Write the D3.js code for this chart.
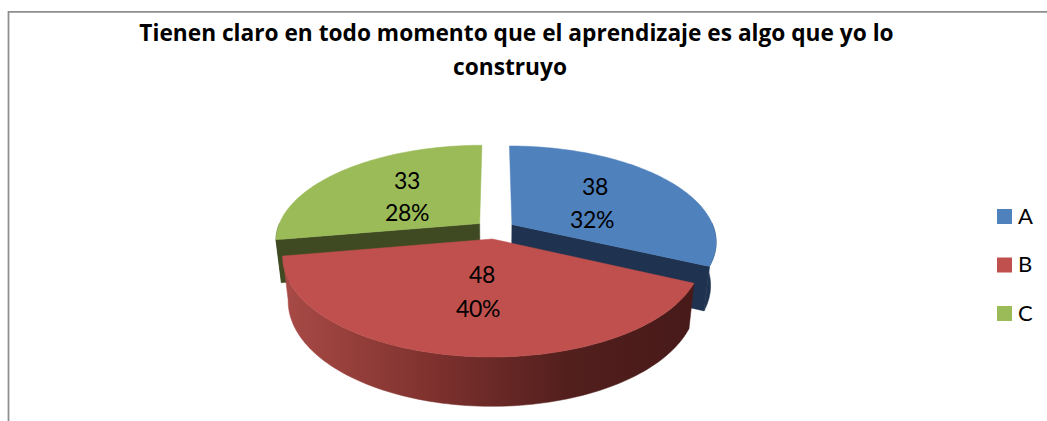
<!DOCTYPE html>
<html><head><meta charset="utf-8">
<script src="https://cdn.jsdelivr.net/npm/d3@7"></script>
<style>html,body{margin:0;padding:0;background:#fff;overflow:hidden}svg{display:block}text{font-family:Lato,"Open Sans",sans-serif;fill:#000}</style>
</head><body><svg id="c" width="1047" height="421"></svg>
<script>
const categories = ["A","B","C"];
const values = [38,48,33];
const percents = ["32%","40%","28%"];
const titleLines = ["Tienen claro en todo momento que el aprendizaje es algo que yo lo","construyo"];
const colors = ["#4F81BD","#C0504D","#9BBB59"];
const sideColors = ["#1F3350","#7a3331","#3F4A22"];

const svg=d3.select("#c");
const cx=495,cy=229.5,rx=202.5,ry=93.8,k=0.174,explode=0.1,shrink=0.975,depth=42.5;
const sx=d3.scaleLinear().domain([0,1]).range([0,rx]);
const sy=d3.scaleLinear().domain([0,1]).range([0,-ry]);
function proj(X,Y,low){
  const d=1+k*Y, s=low?shrink:1;
  return [cx+sx(X/d)*s, cy+sy(Y/d)*s+(low?depth/d:0)];
}
const arcs=d3.pie().sort(null)(values);
const line=d3.line();
function geom(a){
  const mid=(a.startAngle+a.endAngle)/2;
  const ox=explode*Math.sin(mid), oy=explode*Math.cos(mid);
  const n=Math.max(2,Math.ceil((a.endAngle-a.startAngle)*40));
  const ts=d3.range(n+1).map(i=>a.startAngle+(a.endAngle-a.startAngle)*i/n);
  const rim=(low,front)=>ts.filter(t=>!front||Math.cos(t)<0.02).map(t=>proj(ox+Math.sin(t),oy+Math.cos(t),low));
  return {ox,oy,ts,apex:low=>proj(ox,oy,low),rim};
}
const gs=arcs.map(geom);
const defs=svg.append("defs");
const grad=defs.append("linearGradient").attr("id","redSide").attr("gradientUnits","userSpaceOnUse")
  .attr("x1",285).attr("y1",0).attr("x2",690).attr("y2",0);
[[0,"#A84A46"],[0.35,"#80322F"],[0.7,"#521F1D"],[1,"#471A19"]].forEach(([o,c])=>grad.append("stop").attr("offset",o).attr("stop-color",c));

const g=svg.append("g");
g.append("path").attr("d",line([[8.5,421],[8.5,11.75],[1047,11.75]])).attr("fill","none").attr("stroke","#8E8E8E").attr("stroke-width",1.75);

function drawSide(i,fill){
  const G=gs[i], t=G.rim(false,true), l=G.rim(true,true);
  g.append("path").attr("d",line(t.concat(l.slice().reverse()))+"Z").attr("fill",fill).attr("stroke",fill).attr("stroke-width",.5);
}
function drawRadial(i,fill,endIdx){
  const G=gs[i], t=G.rim(false), l=G.rim(true), e=endIdx<0?t.length-1:endIdx;
  g.append("path").attr("d",line([G.apex(false),t[e],l[e],G.apex(true)])+"Z").attr("fill",fill).attr("stroke",fill).attr("stroke-width",.5);
}
function drawTop(i){
  const G=gs[i];
  g.append("path").attr("d",line([G.apex(false)].concat(G.rim(false)))+"Z").attr("fill",colors[i]).attr("stroke",colors[i]).attr("stroke-width",.5);
}
drawSide(0,sideColors[0]); drawRadial(0,sideColors[0],-1);
drawSide(2,sideColors[2]); drawRadial(2,sideColors[2],0);
drawSide(1,"url(#redSide)");
drawTop(0);drawTop(2);drawTop(1);

const titleX=[516.5,510];
g.selectAll("text.t").data(titleLines).join("text").attr("class","t")
  .attr("x",(d,i)=>titleX[i]).attr("y",(d,i)=>41+i*33.5).attr("text-anchor","middle")
  .style("font-family","'Open Sans'")
  .attr("font-size",22.7).attr("font-weight",700).text(d=>d);

const valuePos=[[595,195],[482,283],[407,189]];
const pctPos=[[592,228],[478,317],[407,221]];
categories.forEach((c,i)=>{
  g.append("text").attr("x",valuePos[i][0]).attr("y",valuePos[i][1]).attr("text-anchor","middle").attr("font-size",23).attr("letter-spacing",-0.4).text(values[i]);
  g.append("text").attr("x",pctPos[i][0]).attr("y",pctPos[i][1]).attr("text-anchor","middle").attr("font-size",23).attr("letter-spacing",-0.4).text(percents[i]);
});

const ly=d3.scalePoint().domain(categories).range([216.5,313.5]);
categories.forEach((c,i)=>{
  g.append("rect").attr("x",997).attr("y",ly(c)-7.5).attr("width",15).attr("height",15).attr("fill",colors[i]);
  g.append("text").attr("x",1018).attr("y",ly(c)+7).attr("font-size",22).text(c);
});
</script></body></html>
